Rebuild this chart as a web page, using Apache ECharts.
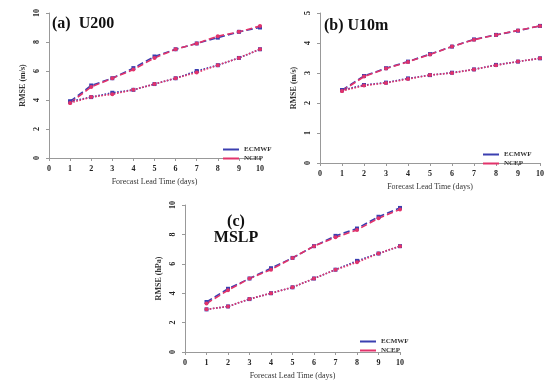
<!DOCTYPE html>
<html><head><meta charset="utf-8">
<script src="https://cdn.jsdelivr.net/npm/echarts@6/dist/echarts.min.js"></script>
<style>html,body{margin:0;padding:0;background:#fff}#c{width:560px;height:381px}</style>
</head><body><div id="c"></div>
<script>
var days = [1,2,3,4,5,6,7,8,9,10];
var xTicks = [0,1,2,3,4,5,6,7,8,9,10];
// (a) U200
var u200BlueUpper = [3.9,5.0,5.5,6.2,7.0,7.5,7.9,8.3,8.7,9.0];
var u200RedUpper  = [3.8,4.9,5.5,6.1,6.9,7.5,7.9,8.4,8.7,9.1];
var u200BlueLower = [3.9,4.2,4.5,4.7,5.1,5.5,6.0,6.4,6.9,7.5];
var u200RedLower  = [3.8,4.2,4.4,4.7,5.1,5.5,5.9,6.4,6.9,7.5];
// (b) U10m
var u10BlueUpper = [2.43,2.90,3.16,3.38,3.63,3.88,4.12,4.27,4.41,4.57];
var u10RedUpper  = [2.40,2.88,3.15,3.37,3.62,3.88,4.11,4.27,4.42,4.57];
var u10BlueLower = [2.43,2.60,2.68,2.82,2.93,3.01,3.12,3.27,3.38,3.49];
var u10RedLower  = [2.40,2.58,2.67,2.80,2.93,3.00,3.12,3.26,3.38,3.49];
// (c) MSLP
var mslpBlueUpper = [3.4,4.3,5.0,5.7,6.4,7.2,7.9,8.4,9.2,9.8];
var mslpRedUpper  = [3.3,4.2,5.0,5.6,6.4,7.2,7.8,8.3,9.1,9.7];
var mslpBlueLower = [2.9,3.1,3.6,4.0,4.4,5.0,5.6,6.2,6.7,7.2];
var mslpRedLower  = [2.9,3.1,3.6,4.0,4.4,5.0,5.6,6.1,6.7,7.2];
var yTicksA = [0,2,4,6,8,10];
var yTicksB = [0,1,2,3,4,5];
var yTicksC = [0,2,4,6,8,10];
var nameBlue = 'ECMWF', nameRed = 'NCEP';
var xTitle = 'Forecast Lead Time (days)';
var yTitleA = 'RMSE (m/s)', yTitleB = 'RMSE (m/s)', yTitleC = 'RMSE (hPa)';

var BLUE = '#3b3fb0', RED = '#e2336b';
var FONT = 'Liberation Serif';
var chart = echarts.init(document.getElementById('c'));
function xAx(g){return {type:'value',gridIndex:g,min:xTicks[0],max:xTicks[xTicks.length-1],interval:1,
  name:xTitle,nameLocation:'middle',nameGap:20,nameTextStyle:{fontSize:8,fontFamily:FONT,color:'#333'},
  axisLine:{show:true,lineStyle:{color:'#999'}},axisTick:{show:true,length:3,lineStyle:{color:'#999'}},
  splitLine:{show:false},axisLabel:{fontSize:8,fontWeight:'bold',fontFamily:FONT,color:'#222',margin:7}};}
function yAx(g,t,name){return {type:'value',gridIndex:g,min:t[0],max:t[t.length-1],interval:t[1]-t[0],
  name:name,nameLocation:'middle',nameGap:22,nameTextStyle:{fontSize:8,fontWeight:'bold',fontFamily:FONT,color:'#333'},
  axisLine:{show:true,lineStyle:{color:'#999'}},axisTick:{show:true,length:3},splitLine:{show:false},
  axisLabel:{rotate:90,fontSize:8,fontWeight:'bold',fontFamily:FONT,color:'#222',margin:8}};}
function ser(name,g,data,color,type,sym){return {name:name,type:'line',xAxisIndex:g,yAxisIndex:g,
  data:days.map(function(d,i){return [d,data[i]];}),symbol:sym,symbolSize:4,
  lineStyle:{color:color,width:1.6,type:type},itemStyle:{color:color},color:color};}
function lg(g,left,top){return {data:[{name:nameBlue},{name:nameRed}],left:left,top:top,orient:'vertical',
  itemWidth:16,itemHeight:2,itemGap:2,icon:'rect',textStyle:{fontSize:7,fontWeight:'bold',fontFamily:FONT,color:'#333'}};}
chart.setOption({
  animation:false,
  color:[BLUE,RED],
  grid:[{left:49,top:13,width:211,height:145},{left:320,top:13,width:220,height:150},{left:185,top:205,width:215,height:148}],
  xAxis:[xAx(0),xAx(1),xAx(2)],
  yAxis:[yAx(0,yTicksA,yTitleA),yAx(1,yTicksB,yTitleB),yAx(2,yTicksC,yTitleC)],
  legend:[lg(0,218,141),lg(1,478,146),lg(2,355,333)],
  graphic:[
    {type:'text',left:52,top:16,style:{text:'(a)  U200',fontSize:16,fontWeight:'bold',fontFamily:FONT,fill:'#111'}},
    {type:'text',left:324,top:18,style:{text:'(b) U10m',fontSize:16,fontWeight:'bold',fontFamily:FONT,fill:'#111'}},
    {type:'text',x:236,y:214,style:{text:'(c)\nMSLP',fontSize:16,lineHeight:16,align:'center',fontWeight:'bold',fontFamily:FONT,fill:'#111'}}
  ],
  series:[
    ser(nameBlue,0,u200BlueUpper,BLUE,'dashed','rect'),
    ser(nameRed,0,u200RedUpper,RED,'dashed','circle'),
    ser(nameBlue,0,u200BlueLower,BLUE,'dotted','rect'),
    ser(nameRed,0,u200RedLower,RED,'dotted','circle'),
    ser(nameBlue,1,u10BlueUpper,BLUE,'dashed','rect'),
    ser(nameRed,1,u10RedUpper,RED,'dashed','circle'),
    ser(nameBlue,1,u10BlueLower,BLUE,'dotted','rect'),
    ser(nameRed,1,u10RedLower,RED,'dotted','circle'),
    ser(nameBlue,2,mslpBlueUpper,BLUE,'dashed','rect'),
    ser(nameRed,2,mslpRedUpper,RED,'dashed','circle'),
    ser(nameBlue,2,mslpBlueLower,BLUE,'dotted','rect'),
    ser(nameRed,2,mslpRedLower,RED,'dotted','circle')
  ]
});
</script></body></html>
